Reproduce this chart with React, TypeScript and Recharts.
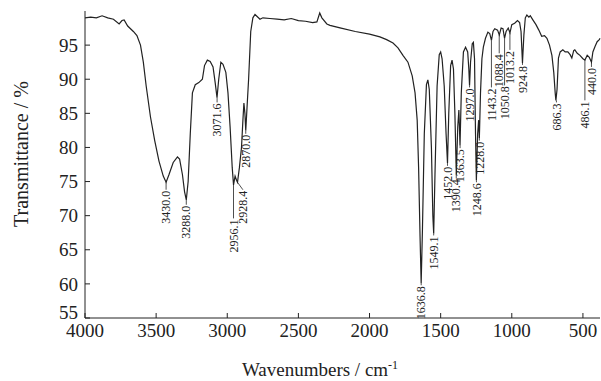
import React from "react";
import {
  LineChart,
  Line,
  XAxis,
  YAxis,
  ReferenceLine,
  ReferenceDot,
} from "recharts";

// wavenumber (cm-1) and transmittance (%)
const wavenumbers = [
  4000, 3960, 3920, 3880, 3840, 3800, 3760, 3740, 3725, 3700, 3660, 3635, 3610, 3590, 3570, 3540,
  3510, 3480, 3450, 3430, 3410, 3380, 3350, 3335, 3315, 3300, 3288, 3275, 3260, 3245, 3225, 3200,
  3175, 3160, 3140, 3120, 3100, 3085, 3072, 3060, 3045, 3030, 3010, 2995, 2980, 2965, 2956, 2945,
  2935, 2928, 2915, 2900, 2890, 2883, 2876, 2870, 2862, 2850, 2835, 2820, 2805, 2790, 2770, 2750,
  2700, 2650, 2600, 2550, 2500, 2450, 2400, 2370, 2350, 2335, 2300, 2278, 2200, 2100, 2000, 1927,
  1880, 1835, 1800, 1765, 1730, 1700, 1680, 1665, 1655, 1645, 1637, 1628, 1615, 1600, 1590, 1580,
  1565, 1555, 1549, 1540, 1525, 1510, 1500, 1490, 1475, 1462, 1452, 1443, 1430, 1420, 1410, 1400,
  1390, 1380, 1372, 1364, 1355, 1340, 1325, 1310, 1302, 1297, 1290, 1278, 1270, 1262, 1255, 1249,
  1240, 1233, 1228, 1220, 1210, 1200, 1185, 1168, 1155, 1143, 1132, 1120, 1100, 1088, 1075, 1062,
  1051, 1040, 1025, 1013, 1000, 980, 960, 945, 935, 925, 915, 905, 894, 880, 870, 852,
  830, 810, 790, 770, 753, 735, 718, 705, 695, 690, 682, 672, 660, 641, 625, 606,
  590, 578, 565, 557, 540, 521, 500, 486, 470, 455, 440, 430, 415, 400, 385, 380,
];
const transmittance = [
  99.0, 99.1, 99.0, 99.3, 99.0, 98.8, 98.1, 98.6, 98.7, 97.8, 97.0, 96.4, 95.0, 92.5, 89.0, 84.5,
  81.0, 78.0, 75.8, 74.9, 76.0, 77.8, 78.6, 78.3, 76.0, 73.5, 72.3, 75.0, 82.0, 88.0, 89.2, 89.5,
  90.0, 92.0, 92.8, 92.6, 91.8, 89.5, 87.3, 90.0, 92.5, 92.2, 91.0, 88.0, 83.0, 77.0, 74.5, 75.8,
  75.2, 74.9, 77.0, 80.0, 84.0, 86.5, 85.0, 82.5, 85.5, 90.0, 97.0, 99.0, 99.5, 99.2, 98.8, 99.0,
  98.9, 98.8, 98.7, 98.9, 98.6, 98.5, 98.3, 98.4, 99.7, 99.0, 98.1, 97.9, 97.5, 97.0, 96.6, 96.2,
  95.8, 95.3, 94.6, 93.5, 92.5, 90.5, 88.0, 84.0, 77.0, 67.0, 60.1, 68.0, 82.0, 89.2, 89.9, 88.5,
  80.0, 70.0, 67.4, 76.0, 89.0, 93.6, 94.0, 93.0, 89.0, 82.0, 77.7, 85.0, 92.0, 92.8, 91.5, 85.0,
  76.0, 83.0, 85.5, 80.3, 88.0, 94.0, 94.7, 94.0, 91.5, 89.1, 92.5, 95.2, 95.4, 93.0, 82.0, 75.2,
  82.0, 84.0, 81.4, 88.0, 93.0, 94.7, 96.0, 96.9, 96.7, 95.7, 97.0, 97.4, 97.2, 96.5, 97.5, 97.4,
  96.0, 97.0, 97.5, 96.8, 98.0, 98.2, 98.6, 98.3, 97.0, 92.4, 96.5, 99.0, 99.4, 99.1, 99.3, 98.7,
  98.0, 97.2, 96.3, 96.4, 96.0, 95.0, 93.5, 91.0, 88.0, 86.9, 88.5, 93.1, 94.0, 94.3, 94.0, 94.0,
  93.6, 93.1, 94.2, 94.3, 93.8, 93.5, 93.0, 92.8, 93.5, 93.2, 92.5, 94.0, 94.8, 95.5, 95.8, 96.0,
];

// peak annotations
const peakLabels = [
  "3430.0", "3288.0", "3071.6", "2956.1", "2928.4", "2870.0", "1636.8", "1549.1", "1452.0", "1390.4", "1363.5",
  "1297.0", "1248.6", "1228.0", "1143.2", "1088.4", "1050.8", "1013.2", "924.8", "686.3", "486.1", "440.0",
];
const peakWn = [
  3430, 3288, 3071.6, 2956.1, 2928.4, 2870, 1636.8, 1549.1, 1452, 1390.4, 1363.5,
  1297, 1248.6, 1228, 1143.2, 1088.4, 1050.8, 1013.2, 924.8, 686.3, 486.1, 440,
];
const peakMin = [
  74.9, 72.3, 87.3, 74.5, 74.9, 82.5, 60.1, 67.4, 77.7, 76.0, 80.3,
  89.1, 75.2, 81.4, 95.7, 96.5, 96.0, 96.8, 92.4, 86.9, 92.8, 92.5,
];
const labelTop = [
  73.8, 71.6, 86.6, 69.6, 73.8, 82.0, 59.8, 67.1, 77.3, 75.5, 79.9,
  88.8, 74.9, 81.0, 88.8, 93.8, 89.1, 94.3, 92.1, 86.6, 86.9, 91.8,
];
const labelWn = [
  3430, 3288, 3071.6, 2956.1, 2890, 2870, 1636.8, 1549.1, 1452, 1390.4, 1363.5,
  1297, 1248.6, 1228, 1143.2, 1088.4, 1050.8, 1013.2, 924.8, 686.3, 486.1, 440,
];

const xTicks = [4000, 3500, 3000, 2500, 2000, 1500, 1000, 500];
const yTicks = [55, 60, 65, 70, 75, 80, 85, 90, 95];

const data = wavenumbers.map((wn, i) => ({ wn, t: transmittance[i] }));

const FONT = '"Liberation Serif", "Times New Roman", serif';
const INK = "#222";

const XTick = (props: any) => {
  const { x, y, payload } = props;
  return (
    <g>
      <line x1={x} x2={x} y1={y} y2={y - 5} stroke={INK} strokeWidth={1} />
      <text x={x} y={y + 19} textAnchor="middle" fontFamily={FONT} fontSize={19} fill={INK}>
        {payload.value}
      </text>
    </g>
  );
};

const YTick = (props: any) => {
  const { x, y, payload } = props;
  // the bottom label sits a little above its tick, clear of the x labels
  const ty = payload.value === 55 ? y - 6 : y;
  return (
    <g>
      <line x1={x} x2={x + 5} y1={y} y2={y} stroke={INK} strokeWidth={1} />
      <text x={x - 7} y={ty} dy="0.35em" textAnchor="end" fontFamily={FONT} fontSize={19} fill={INK}>
        {payload.value}
      </text>
    </g>
  );
};

const peakText = (label: string) => (props: any) => {
  const { cx, cy } = props;
  if (cx == null || cy == null) return <g />;
  return (
    <text
      x={cx}
      y={cy + 1}
      transform={`rotate(-90 ${cx} ${cy + 1})`}
      textAnchor="end"
      dy="0.35em"
      fontFamily={FONT}
      fontSize={12}
      fill={INK}
    >
      {label}
    </text>
  );
};

export default function App() {
  return (
    <div style={{ position: "absolute", left: 0, top: 0, width: 601, height: 381, background: "#fff" }}>
      <LineChart width={601} height={381} data={data} margin={{ top: 11, right: 1, bottom: 0, left: 0 }}>
        <XAxis
          dataKey="wn"
          type="number"
          domain={[380, 4000]}
          reversed
          ticks={xTicks}
          interval={0}
          height={63}
          tickSize={0}
          tickMargin={0}
          tick={<XTick />}
          axisLine={{ stroke: INK, strokeWidth: 1 }}
          label={{
            content: () => (
              <text x={320} y={376} textAnchor="middle" fontFamily={FONT} fontSize={19} fill={INK}>
                Wavenumbers / cm
                <tspan dy={-7} fontSize={12}>-1</tspan>
              </text>
            ),
          }}
        />
        <YAxis
          type="number"
          domain={[55, 100]}
          ticks={yTicks}
          interval={0}
          width={85}
          tickSize={0}
          tickMargin={0}
          tick={<YTick />}
          axisLine={{ stroke: INK, strokeWidth: 1 }}
          label={{
            content: () => (
              <text
                x={21}
                y={154}
                transform="rotate(-90 21 154)"
                textAnchor="middle"
                dy="0.35em"
                fontFamily={FONT}
                fontSize={20}
                fill={INK}
              >
                Transmittance / %
              </text>
            ),
          }}
        />
        <Line
          type="linear"
          dataKey="t"
          stroke={INK}
          strokeWidth={1.2}
          dot={false}
          isAnimationActive={false}
        />
        {peakWn.map((wn, i) => (
          <ReferenceLine
            key={`lead-${i}`}
            segment={[
              { x: wn, y: peakMin[i] },
              { x: labelWn[i], y: labelTop[i] },
            ]}
            stroke={INK}
            strokeWidth={0.8}
          />
        ))}
        {labelWn.map((wn, i) => (
          <ReferenceDot
            key={`lab-${i}`}
            x={wn}
            y={labelTop[i]}
            r={0}
            shape={peakText(peakLabels[i])}
          />
        ))}
      </LineChart>
    </div>
  );
}
